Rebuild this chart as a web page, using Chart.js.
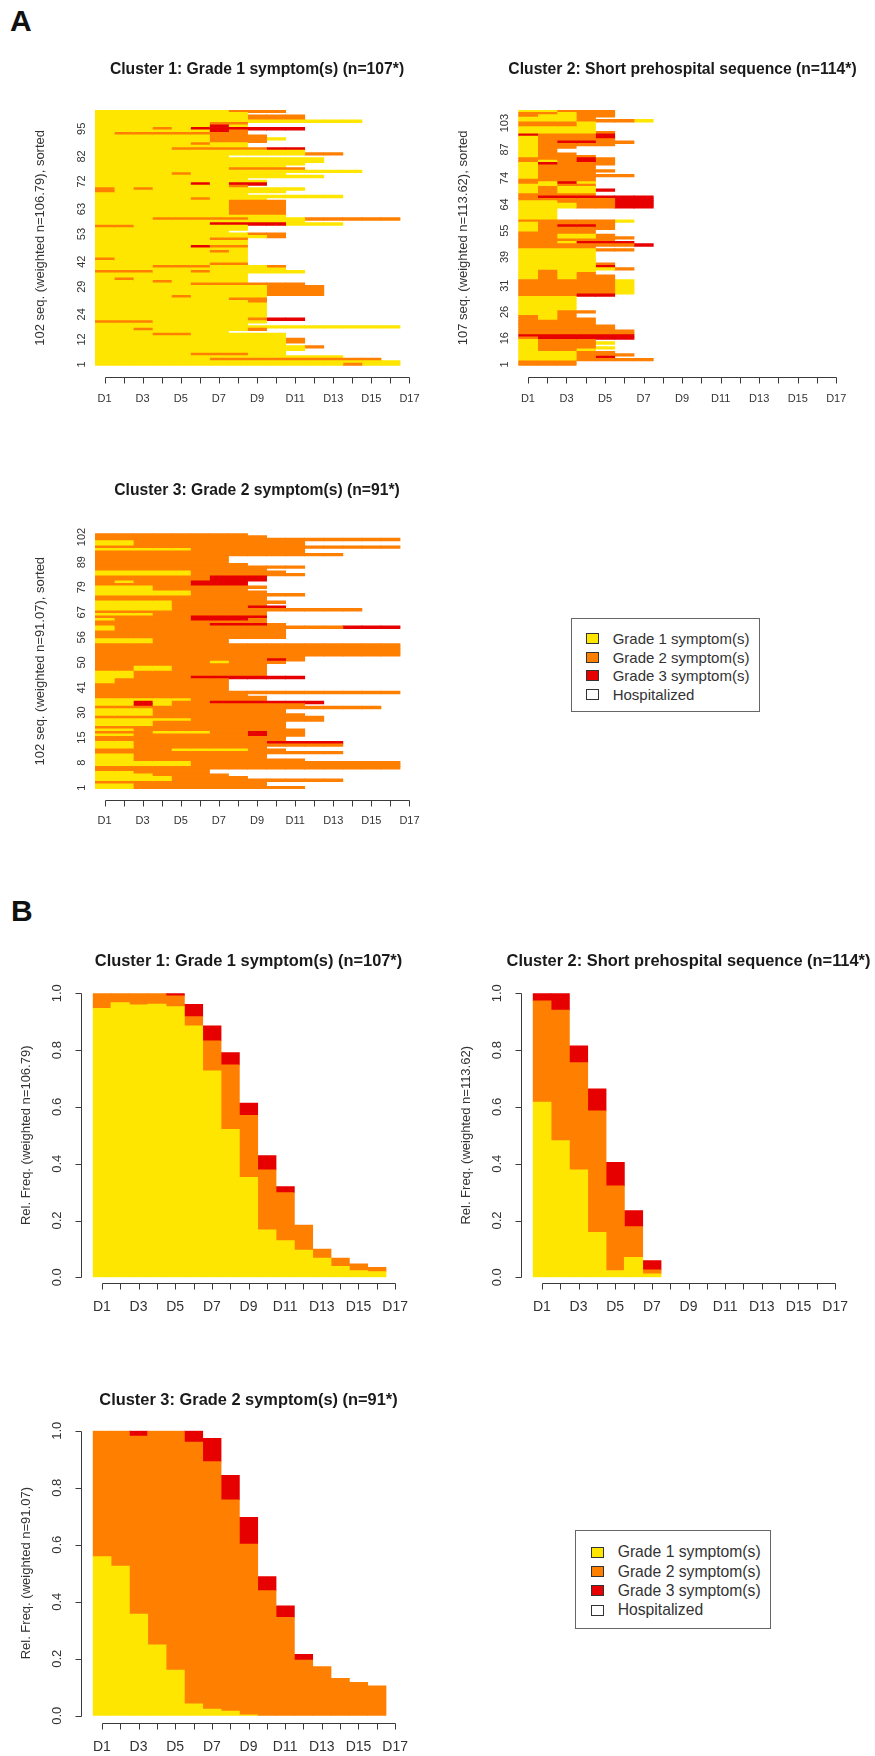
<!DOCTYPE html>
<html>
<head>
<meta charset="utf-8">
<script src="https://cdn.jsdelivr.net/npm/chart.js@4.4.1/dist/chart.umd.min.js"></script>
<style>
html,body{margin:0;padding:0;background:#fff;}
body{width:875px;height:1756px;position:relative;overflow:hidden;font-family:'Liberation Sans',Arial,Helvetica,sans-serif;}
canvas{position:absolute;}
.plab{position:absolute;font-weight:bold;font-size:30px;line-height:1;color:#111;}
.legend{position:absolute;border:1px solid #666;box-sizing:border-box;background:#fff;}
.legend .sq{position:absolute;box-sizing:border-box;border:1px solid #333;}
.legend .tx{position:absolute;white-space:nowrap;color:#333;line-height:1;}
</style>
</head>
<body>
<div class="plab" style="left:10px;top:6px">A</div>
<div class="plab" style="left:11px;top:896px">B</div>
<script>
// ---------------- DATA ----------------
const days = ['D1','D2','D3','D4','D5','D6','D7','D8','D9','D10','D11','D12','D13','D14','D15','D16','D17'];
const stateNames = ['Grade 1 symptom(s)','Grade 2 symptom(s)','Grade 3 symptom(s)','Hospitalized'];
const stateColors = ['#FFE600','#FF7F00','#E60000','#FFFFFF'];

const titles = [
  'Cluster 1: Grade 1 symptom(s) (n=107*)',
  'Cluster 2: Short prehospital sequence (n=114*)',
  'Cluster 3: Grade 2 symptom(s) (n=91*)'
];
const seqTitles = [
  '102 seq. (weighted n=106.79), sorted',
  '107 seq. (weighted n=113.62), sorted',
  '102 seq. (weighted n=91.07), sorted'
];
const freqTitles = [
  'Rel. Freq. (weighted n=106.79)',
  'Rel. Freq. (weighted n=113.62)',
  'Rel. Freq. (weighted n=91.07)'
];

// Sequence index plots: one string per sequence, listed top to bottom.
// 1 = grade 1, 2 = grade 2, 3 = grade 3; days after the string's end = hospitalized.
const c1Seq = [
'1111111222','11111111','11111111222','11111111222','11111111111111','11111122','11111131','11121333333',
'11111132','12222222','111111222','1111112221','111111222','11111211','11111111','11112222233',
'11111111111','1111111111122','1111111','111111111111','111111111111','11111111111','1111111111','11111112222',
'11111111111111','1111211111','111111111111','11111111','111111111','111113133','11111112','21211111111',
'2111111111','11111111','1111111111111','111112111','1111111222','1111111222','1111111222','1111111222',
'1111111222','1111111222','1111111111','1112222211122222','11111111111','1111113333111','22111111','11111111',
'1111111','1111111122','1111111112','11111122','11111111','11111111','11111322','11111111',
'11111121','11111111','11111111','21111111','11111111','11111122','1112221112','1111111111',
'22211211111','11111111','11111111','12111111','11121111','11111222222','111111111222','111111111222',
'111111111222','111111111222','111121111','111111122','111111112','111111111','111111111','111111111',
'111111111','111111111','111111111','11111111233','222111111','11111111','1111111111111111','112111112',
'1111111','1112211111','1111111111','11111111112','11111111112','1111111111','111111111112','11111111111',
'1111111111','1111122211','1111111111111','111111222222222','1111111111111111','1111111111111211'
];
const c2Seq = [
'11222','22122','21122','1112','1112221','2221','2221','1111','1111','11112',
'32223','12223','12222','123322','12222','122','12','12','122','1222',
'22232','21232','13222','1222','1222','12222','1222','122222','1222','2222',
'2131','1122','1211','12113','1211','2222','2333333','2222233','1122233','1112233',
'1112233','11','11','11','11','11','222221','12222','12332','12222',
'1222','2222','22112','221122','22222','221333','2222223','2222','111122','1111',
'1111','1111','1111','1111','11112','11113','111112','1211','1212','12122',
'12122','222221','222221','222221','222221','222221','222221','22233','111','111',
'111','111','111','111','1122','112','212','2122','2222','2222',
'22222','22222','222222','222222','333333','233333','1222','12221','1222','12221',
'1221','11122','111222','11123','1112222','222','222'
];
const c3Seq = [
'22222222','222222222','2222222222222222','11222222222','11222222222','2222222222222222','11111222222','22222222222',
'2222222222222','2222222','2222222','2222222','22222222','22222222222','222222222','1111122222',
'11111222222','222222333','222222333','21222333','22222333','111222222','11122222','111112222',
'11111222222','222222222','222222222','1111222222','111122222','1111222233','11112222222222','222222222',
'111222222','222223333','122223332','222222222','2222223332','1222222222222333','1222222222','2222222222',
'2222222222','2222222222','1112222','1112222','2222222222222222','2222222222222222','2222222222222222','2222222222222222',
'2222222222222222','22222222222','22222222232','2222221222','222222222','221122222','221122222','112222222',
'112222222','11222333333','1222222','1222222','2222222','2222222','2222222','2222222222222222',
'22222222','222222222','111112222','113122333333','11312222222','222222222222222','1112222222','1112222222',
'11122222222','222222222222','111112222222','1112222222','1112222222','2222222222','11222222222','22211122322',
'11222222322','2222222222','2222222222','1122222223333','1122222222222','112222222','2222111122','2222222222222',
'112222222','112222222','11222222222','1111122222222222','1111122222222222','2222222222222222','222222','112222',
'1112222','11112222','1111222222222','222222222','112222222','11222222222'
];

// y-axis tick labels of the sequence plots (row counted from the top)
const c1TickRows = [7, 18, 28, 39, 49, 60, 70, 81, 91, 101];
const c1TickLabels = ['95','82','72','63','53','42','29','24','12','1'];
const c2TickRows = [5, 16, 28, 39, 50, 61, 73, 84, 95, 106];
const c2TickLabels = ['103','87','74','64','55','39','31','26','16','1'];
const c3TickRows = [1, 11, 21, 31, 41, 51, 61, 71, 81, 91, 101];
const c3TickLabels = ['102','89','79','67','56','50','41','30','15','8','1'];

// State distribution plots: share of each state per day
const c1Grade1 = [0.947,0.967,0.959,0.962,0.953,0.885,0.727,0.521,0.352,0.167,0.129,0.096,0.067,0.038,0.023,0.020,0];
const c1Grade2 = [0.053,0.033,0.041,0.038,0.038,0.033,0.105,0.227,0.218,0.211,0.169,0.088,0.032,0.029,0.024,0.015,0];
const c1Grade3 = [0,0,0,0,0.009,0.043,0.053,0.043,0.043,0.050,0.021,0,0,0,0,0,0];
const c2Grade1 = [0.617,0.481,0.378,0.158,0.023,0.070,0.012,0,0,0,0,0,0,0,0,0,0];
const c2Grade2 = [0.356,0.460,0.378,0.428,0.299,0.108,0.014,0,0,0,0,0,0,0,0,0,0];
const c2Grade3 = [0.027,0.059,0.059,0.077,0.083,0.057,0.033,0,0,0,0,0,0,0,0,0,0];
const c3Grade1 = [0.558,0.525,0.356,0.248,0.160,0.041,0.023,0.016,0.003,0,0,0,0,0,0,0,0];
const c3Grade2 = [0.442,0.475,0.625,0.752,0.840,0.919,0.868,0.741,0.599,0.439,0.345,0.195,0.172,0.131,0.117,0.105,0];
const c3Grade3 = [0,0,0.019,0,0,0.040,0.082,0.086,0.094,0.049,0.040,0.020,0,0,0,0,0];
const freqTickValues = [0, 0.2, 0.4, 0.6, 0.8, 1.0];
const freqTickLabels = ['0.0','0.2','0.4','0.6','0.8','1.0'];

// ---------------- LAYOUT (page pixels) ----------------
const geo = {
  A1:{cx:0,  L:95,   R:419,   top:110,   bottom:365.7,  titleCY:70,    xAxisY:377.3,  xLabelCY:398.5,  yLabelCX:81.7,  yTitleCX:40.7, titleSize:15.7, tickSize:11, yTickSize:11, yTitleSize:13, tick:6},
  A2:{cx:450,L:518.3,R:845.9, top:110,   bottom:365.7,  titleCY:70,    xAxisY:377.3,  xLabelCY:398.5,  yLabelCX:505,   yTitleCX:463.3,titleSize:15.7, tickSize:11, yTickSize:11, yTitleSize:13, tick:6},
  A3:{cx:0,  L:95,   R:419,   top:533.3, bottom:789,    titleCY:491,   xAxisY:800,    xLabelCY:821,    yLabelCX:81.7,  yTitleCX:40,   titleSize:15.7, tickSize:11, yTickSize:11, yTitleSize:13, tick:6},
  B1:{cx:0,  L:92.7, R:404.3, top:993.3, bottom:1277.3, titleCY:961.7, xAxisY:1283.3, xLabelCY:1307,   yLabelCX:57.3,  yTitleCX:26,  yAxisX:81,  titleSize:16.4, tickSize:14, yTickSize:13, yTitleSize:13, tick:6},
  B2:{cx:455,L:532.7,R:844.3, top:993.3, bottom:1277.3, titleCY:961.7, xAxisY:1283.3, xLabelCY:1307,   yLabelCX:497.3, yTitleCX:466, yAxisX:521, titleSize:16.4, tickSize:14, yTickSize:13, yTitleSize:13, tick:6},
  B3:{cx:0,  L:92.7, R:404.3, top:1430.7,bottom:1715.7, titleCY:1400,  xAxisY:1722.7, xLabelCY:1746.7, yLabelCX:57.3,  yTitleCX:26,  yAxisX:81,  titleSize:16.4, tickSize:14, yTickSize:13, yTitleSize:13, tick:6}
};
const legendGeo = [
  {left:570.7, top:618.3, width:189, height:94, sqLeft:14.3, sqW:13, sqH:11, txLeft:41, font:15, rows:[19.7,38.2,56.7,75.2]},
  {left:575, top:1530, width:196, height:99, sqLeft:15, sqW:12.7, sqH:11, txLeft:41.7, font:15.7, rows:[21,40.4,59.8,79.2]}
];

// ---------------- RENDERING ----------------
const FAMILY = "'Liberation Sans', Arial, Helvetica, sans-serif";
Chart.defaults.font.family = FAMILY;
Chart.defaults.color = '#333';

// R-style detached axes: a line from first to last tick plus outward tick marks
Chart.register({
  id: 'raxis',
  afterDraw(chart, args, o) {
    const {ctx, chartArea: ca} = chart;
    const xs = chart.scales.x, ys = chart.scales.y;
    ctx.save();
    ctx.strokeStyle = '#3a3a3a';
    ctx.lineWidth = 1;
    ctx.beginPath();
    if (o.xOff !== undefined) {
      const y = Math.round(ca.bottom + o.xOff) + 0.5;
      const n = xs.ticks.length;
      ctx.moveTo(Math.round(xs.getPixelForTick(0)) + 0.5, y);
      ctx.lineTo(Math.round(xs.getPixelForTick(n - 1)) + 0.5, y);
      for (let i = 0; i < n; i++) {
        const x = Math.round(xs.getPixelForTick(i)) + 0.5;
        ctx.moveTo(x, y); ctx.lineTo(x, y + o.tick);
      }
    }
    if (o.yOff !== undefined) {
      const x = Math.round(ca.left - o.yOff) + 0.5;
      const n = ys.ticks.length;
      ctx.moveTo(x, Math.round(ys.getPixelForTick(0)) + 0.5);
      ctx.lineTo(x, Math.round(ys.getPixelForTick(n - 1)) + 0.5);
      for (let i = 0; i < n; i++) {
        const y = Math.round(ys.getPixelForTick(i)) + 0.5;
        ctx.moveTo(x, y); ctx.lineTo(x - o.tick, y);
      }
    }
    ctx.stroke();
    ctx.restore();
  }
});

const mctx = document.createElement('canvas').getContext('2d');
function widest(labels, size) {
  mctx.font = 'normal normal ' + size + 'px ' + FAMILY;
  return Math.max.apply(null, labels.map(l => mctx.measureText(l).width));
}

function frame(g) {
  const cx = g.cx, cy = Math.round(g.titleCY - 30);
  const yW = g.L - cx;
  const W = Math.ceil(g.R - cx + yW);
  const rW = W - (g.R - cx);
  const H = Math.ceil(g.xLabelCY - cy + 14);
  const c = document.createElement('canvas');
  c.width = W; c.height = H;
  c.style.left = cx + 'px'; c.style.top = cy + 'px';
  c.style.width = W + 'px'; c.style.height = H + 'px';
  document.body.appendChild(c);
  return {c, cx, cy, yW, rW, W, H};
}

function baseOptions(g, f, title, yTitle) {
  const tLH = g.titleSize * 1.2;
  const tpT = g.titleCY - f.cy - tLH / 2;
  const tpB = (g.top - f.cy) - tpT - tLH;
  const yTLH = g.yTitleSize * 1.2;
  return {
    responsive: false, animation: false, devicePixelRatio: 1,
    events: [],
    layout: {padding: {left: 0, top: 0, right: 0, bottom: 0}},
    plugins: {
      legend: {display: false},
      tooltip: {enabled: false},
      title: {display: true, text: title, fullSize: true, align: 'center', color: '#1a1a1a',
              font: {size: g.titleSize, weight: 'bold', lineHeight: 1.2}, padding: {top: tpT, bottom: tpB}},
      raxis: {xOff: g.xAxisY - g.bottom, tick: g.tick, yOff: g.yAxisX !== undefined ? g.L - g.yAxisX : undefined}
    },
    scales: {
      x: {
        stacked: true,
        grid: {display: false, drawTicks: false}, border: {display: false},
        afterFit: s => { s.height = f.H - (g.bottom - f.cy); },
        ticks: {autoSkip: false, minRotation: 0, maxRotation: 0, color: '#333',
                padding: g.xLabelCY - g.bottom - g.tickSize * 0.6,
                font: {size: g.tickSize, lineHeight: 1.2},
                callback: (v, i) => (i % 2 === 0 ? days[i] : '')}
      },
      y: {
        stacked: true,
        grid: {display: false, drawTicks: false}, border: {display: false},
        afterFit: s => { s.width = f.yW; },
        ticks: {autoSkip: false, minRotation: 90, maxRotation: 90, crossAlign: 'center', color: '#333',
                font: {size: g.yTickSize, lineHeight: 1.2}},
        title: {display: true, text: yTitle, color: '#333', font: {size: g.yTitleSize, lineHeight: 1.2},
                padding: {top: g.yTitleCX - f.cx - yTLH / 2, bottom: 0}}
      },
      yRight: {
        type: 'linear', position: 'right', display: true,
        grid: {display: false, drawTicks: false}, border: {display: false},
        ticks: {display: false},
        afterFit: s => { s.width = f.rW; }
      }
    }
  };
}

function seqChart(g, rows, tickRows, tickLabels, title, yTitle) {
  const f = frame(g);
  const labels = rows.map(() => '');
  tickRows.forEach((r, i) => { labels[r] = tickLabels[i]; });
  const opts = baseOptions(g, f, title, yTitle);
  opts.indexAxis = 'y';
  opts.scales.x.type = 'linear';
  opts.scales.x.min = 0;
  opts.scales.x.max = days.length;
  opts.scales.x.afterBuildTicks = s => { s.ticks = days.map((d, i) => ({value: i + 0.5})); };
  opts.scales.y.type = 'category';
  opts.scales.y.ticks.padding = (g.L - g.yLabelCX) - widest(tickLabels, g.yTickSize) / 2;
  const datasets = days.map((d, di) => ({
    label: d,
    data: rows.map(s => (di < s.length ? 1 : null)),
    backgroundColor: rows.map(s => stateColors[(+s[di] || 4) - 1]),
    borderWidth: 0, barPercentage: 1, categoryPercentage: 1, inflateAmount: 0.45
  }));
  new Chart(f.c, {type: 'bar', data: {labels, datasets}, options: opts});
}

function freqChart(g, g1, g2, g3, title, yTitle) {
  const f = frame(g);
  const opts = baseOptions(g, f, title, yTitle);
  opts.scales.x.type = 'category';
  opts.scales.y.type = 'linear';
  opts.scales.y.min = 0;
  opts.scales.y.max = 1;
  opts.scales.y.afterBuildTicks = s => { s.ticks = freqTickValues.map(v => ({value: v})); };
  opts.scales.y.ticks.callback = (v, i) => freqTickLabels[i];
  opts.scales.y.ticks.padding = (g.L - g.yLabelCX) - widest(freqTickLabels, g.yTickSize) / 2;
  const datasets = [g1, g2, g3].map((arr, k) => ({
    label: stateNames[k],
    data: arr.map(v => (v > 0 ? v : null)),
    backgroundColor: stateColors[k],
    borderWidth: 0, barPercentage: 1, categoryPercentage: 1, inflateAmount: 0.4
  }));
  new Chart(f.c, {type: 'bar', data: {labels: days, datasets}, options: opts});
}

seqChart(geo.A1, c1Seq, c1TickRows, c1TickLabels, titles[0], seqTitles[0]);
seqChart(geo.A2, c2Seq, c2TickRows, c2TickLabels, titles[1], seqTitles[1]);
seqChart(geo.A3, c3Seq, c3TickRows, c3TickLabels, titles[2], seqTitles[2]);
freqChart(geo.B1, c1Grade1, c1Grade2, c1Grade3, titles[0], freqTitles[0]);
freqChart(geo.B2, c2Grade1, c2Grade2, c2Grade3, titles[1], freqTitles[1]);
freqChart(geo.B3, c3Grade1, c3Grade2, c3Grade3, titles[2], freqTitles[2]);

// Legends (HTML)
legendGeo.forEach(lg => {
  const box = document.createElement('div');
  box.className = 'legend';
  Object.assign(box.style, {left: lg.left + 'px', top: lg.top + 'px', width: lg.width + 'px', height: lg.height + 'px'});
  stateNames.forEach((name, i) => {
    const sq = document.createElement('div');
    sq.className = 'sq';
    Object.assign(sq.style, {left: lg.sqLeft + 'px', top: (lg.rows[i] - lg.sqH / 2) + 'px',
      width: lg.sqW + 'px', height: lg.sqH + 'px', background: stateColors[i]});
    const tx = document.createElement('div');
    tx.className = 'tx';
    tx.textContent = name;
    Object.assign(tx.style, {left: lg.txLeft + 'px', top: (lg.rows[i] - lg.font / 2) + 'px', fontSize: lg.font + 'px'});
    box.appendChild(sq); box.appendChild(tx);
  });
  document.body.appendChild(box);
});
</script>
</body>
</html>
